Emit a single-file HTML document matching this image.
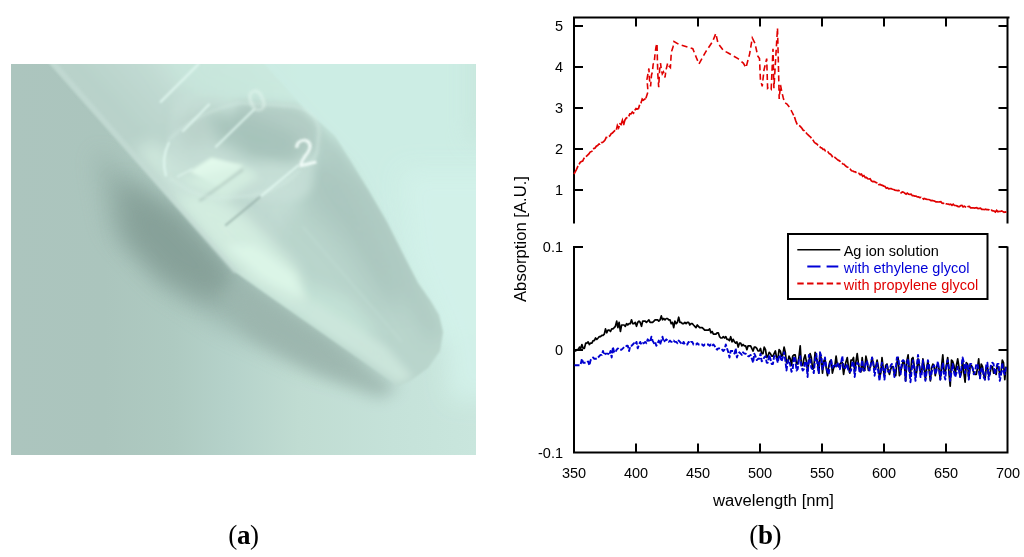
<!DOCTYPE html>
<html><head><meta charset="utf-8"><style>
html,body{margin:0;padding:0;background:#fff;width:1024px;height:557px;overflow:hidden}
svg{display:block}
.t{font-family:"Liberation Sans",Arial,sans-serif;font-size:14.5px;fill:#000}
.cap{font-family:"Liberation Serif","Times New Roman",serif;font-size:27px;letter-spacing:-0.3px;fill:#000}
</style></head><body>
<svg width="1024" height="557" viewBox="0 0 1024 557">
<defs>
<clipPath id="pc"><rect x="11" y="64" width="465" height="391"/></clipPath>
<clipPath id="tc"><path d="M28 40L235 272L398 386L410 381L428 368L440 351L443 332L439 315L430 300L418 283L402 252L387 222L369 191L350 160L335 136L322 124L305 110L243 40Z"/></clipPath>
<linearGradient id="bg" x1="11" y1="0" x2="476" y2="0" gradientUnits="userSpaceOnUse">
<stop offset="0" stop-color="#acc5be"/><stop offset="0.2" stop-color="#abc5bd"/><stop offset="0.35" stop-color="#aecac1"/><stop offset="0.47" stop-color="#b5d2ca"/><stop offset="0.62" stop-color="#c0dcd2"/><stop offset="0.82" stop-color="#c5e2d9"/><stop offset="1" stop-color="#c9e6dd"/>
</linearGradient>
<linearGradient id="tg" x1="100" y1="120" x2="219" y2="13" gradientUnits="userSpaceOnUse">
<stop offset="0" stop-color="#bad3cb"/><stop offset="0.12" stop-color="#b8d2ca"/><stop offset="0.45" stop-color="#c2dbd3"/><stop offset="1" stop-color="#d0f0e6"/>
</linearGradient>
<filter id="b1" x="-20%" y="-20%" width="140%" height="140%"><feGaussianBlur stdDeviation="1"/></filter>
<filter id="b2" x="-20%" y="-20%" width="140%" height="140%"><feGaussianBlur stdDeviation="1.5"/></filter>
<filter id="b4" x="-30%" y="-30%" width="160%" height="160%"><feGaussianBlur stdDeviation="4"/></filter>
<filter id="b8" x="-40%" y="-40%" width="180%" height="180%"><feGaussianBlur stdDeviation="8"/></filter>
<filter id="b12" x="-50%" y="-50%" width="200%" height="200%"><feGaussianBlur stdDeviation="12"/></filter>
</defs>
<g clip-path="url(#pc)">
<rect x="11" y="64" width="465" height="391" fill="url(#bg)"/>
<!-- right background light zone -->
<path d="M210 20L520 20L520 300L470 330L440 345L400 262L350 168L300 118L230 45Z" fill="#cdeee5" opacity="0.95" filter="url(#b8)"/>
<path d="M470 30L520 30L520 140L470 140Z" fill="#c6e4da" opacity="0.8" filter="url(#b12)"/>
<path d="M400 170L520 170L520 400L450 400L445 340L410 260Z" fill="#d3f2ea" opacity="0.9" filter="url(#b12)"/>
<!-- shadow under tube -->
<path d="M95 150L185 215L240 276L330 335L380 380L300 362L220 325L160 285L110 230Z" fill="#98b2aa" opacity="0.85" filter="url(#b12)"/>
<path d="M118 180L178 212L220 255L240 284L205 300L160 275L125 238Z" fill="#839d95" opacity="0.85" filter="url(#b12)"/>
<path d="M240 278L398 388L380 398L320 375L250 335L225 295Z" fill="#9cb6ae" opacity="0.85" filter="url(#b8)"/>
<!-- tube body -->
<g filter="url(#b1)">
<g clip-path="url(#tc)">
<rect x="20" y="30" width="440" height="370" fill="url(#tg)"/>
<!-- cone base -->
<path d="M240 300L290 215L330 170L365 180L420 250L460 340L420 400L330 360Z" fill="#b9d5cc" filter="url(#b8)"/>
<!-- top light zone -->
<path d="M150 40L330 40L330 110L260 110L190 100Z" fill="#c8e6dc" opacity="0.8" filter="url(#b12)"/>
<!-- cone dark upper zone -->
<path d="M295 160L335 140L372 200L400 262L410 300L385 305L345 245L305 205Z" fill="#a9c5bd" opacity="0.85" filter="url(#b12)"/>
<!-- dark band inside cone upper-right edge -->
<path d="M322 124L350 160L387 222L418 283L443 332L428 340L398 285L362 218L332 168L305 128Z" fill="#adc9c1" opacity="0.85" filter="url(#b8)"/>
<!-- cone lower-left light zone -->
<path d="M245 272L300 280L350 300L380 335L350 345L290 315L245 285Z" fill="#c4e3d7" opacity="0.9" filter="url(#b8)"/>
<path d="M238 272L398 384L414 378L385 345L312 300L262 266Z" fill="#cce6dc" opacity="0.9" filter="url(#b4)"/>
<!-- bright band along lower edge of straight part -->
<path d="M135 150L235 268L300 305L298 270L245 215L190 165L150 140Z" fill="#d0e9de" opacity="0.9" filter="url(#b8)"/>
<path d="M170 195L235 268L300 305L295 270L245 220L200 190Z" fill="#d4eee1" opacity="0.8" filter="url(#b8)"/>
<path d="M225 245L262 278L305 300L295 275L255 245Z" fill="#dcf6e7" opacity="0.9" filter="url(#b4)"/>
<!-- liquid region -->
<path d="M172 118Q168 100 190 96L290 108Q318 112 318 135L312 185Q308 200 290 200L185 195Q165 192 165 175Z" fill="#c8e0d8" opacity="0.7" filter="url(#b4)"/>
<!-- liquid dark band -->
<path d="M240 102L300 106L318 124L318 150L292 162L250 152L232 122Z" fill="#afc9c1" opacity="0.8" filter="url(#b4)"/>
<path d="M200 112L250 115L300 135L295 160L250 160L215 140Z" fill="#a6c2ba" opacity="0.9" filter="url(#b8)"/>
<path d="M175 120L205 112L215 140L185 150Z" fill="#b6cec6" opacity="0.7" filter="url(#b8)"/>
<!-- liquid bright patch -->
<path d="M189.6 171.5L219.2 187.3L243 165.5L211.3 157.6Z" fill="#e2f9eb" opacity="1" filter="url(#b2)"/>
<path d="M180 180L225 200L260 175L240 165Z" fill="#d6f0e2" opacity="0.8" filter="url(#b4)"/>
<path d="M199.5 201L243 169.5" stroke="#a0b8b0" stroke-width="2" opacity="0.7" filter="url(#b1)"/>
<!-- axis streak in cone -->
<path d="M302 226L402 342" stroke="#c4e0d6" stroke-width="2" opacity="0.5" filter="url(#b1)"/>
</g>
</g>
<!-- tube wall highlight along lower edge -->
<path d="M49 58L236 272" stroke="#c6ddd6" stroke-width="5" opacity="0.6" filter="url(#b2)" fill="none"/>
<!-- liquid outline -->
<path d="M168 141Q195 112 240 103L292 106Q318 110 319 132L317 152Q314 162 304 166" stroke="#d4ebe3" stroke-width="3" fill="none" opacity="0.4" filter="url(#b2)"/>
<path d="M170 178Q190 195 215 198L250 196Q280 190 300 170" stroke="#d8efe6" stroke-width="4" fill="none" opacity="0.3" filter="url(#b2)"/>
<!-- graduation lines -->
<g stroke="#e4faf2" stroke-width="2.2" stroke-linecap="round" fill="none" filter="url(#b1)">
<path d="M198.6 64L160.7 101.9" opacity="0.8"/>
<path d="M209 104.5L183 131" opacity="0.8"/>
<path d="M253.8 109.7L215.9 146.8" opacity="0.8"/>
<path d="M191.6 169.5L177.8 176.4" opacity="0.5"/>
<path d="M298.2 165.5L260 197" opacity="0.85"/>
<path d="M260 197L226 225" stroke="#90aaa2" opacity="0.7"/>
<path d="M168.9 142.8Q161 159 165.9 175.4" opacity="0.8"/>
</g>
<text x="0" y="0" transform="translate(298 168) rotate(-14)" font-family="Liberation Sans, sans-serif" font-size="38" fill="#f2fdf9" opacity="0.95" filter="url(#b1)">2</text>
<text x="0" y="0" transform="translate(253 114) rotate(-22)" font-family="Liberation Sans, sans-serif" font-size="31" fill="#e8f9f2" opacity="0.6" filter="url(#b2)">0</text>
</g>

<g class="t"><text x="563" y="31.2" text-anchor="end">5</text><text x="563" y="72.2" text-anchor="end">4</text><text x="563" y="113.2" text-anchor="end">3</text><text x="563" y="154.2" text-anchor="end">2</text><text x="563" y="195.2" text-anchor="end">1</text><text x="563" y="252.2" text-anchor="end">0.1</text><text x="563" y="355.2" text-anchor="end">0</text><text x="563" y="457.7" text-anchor="end">-0.1</text><text x="574.0" y="478" text-anchor="middle">350</text><text x="636.0" y="478" text-anchor="middle">400</text><text x="698.0" y="478" text-anchor="middle">450</text><text x="760.0" y="478" text-anchor="middle">500</text><text x="822.0" y="478" text-anchor="middle">550</text><text x="884.0" y="478" text-anchor="middle">600</text><text x="946.0" y="478" text-anchor="middle">650</text><text x="1008.0" y="478" text-anchor="middle">700</text></g>
<text class="t" x="713" y="505.5" style="font-size:15.6px" textLength="121" lengthAdjust="spacingAndGlyphs">wavelength [nm]</text>
<text class="t" transform="translate(525.5 302) rotate(-90)" style="font-size:15.6px" textLength="126" lengthAdjust="spacingAndGlyphs">Absorption [A.U.]</text>
<path d="M574 16.5V223.5M574 246V453.5M1007.5 16.5V223.5M1007.5 246.5V453.5M573 17.5H1009.5M573 452.5H1008.5" stroke="#000" stroke-width="2" fill="none"/><path d="M574 26h9M1007.5 26h-9M574 67h9M1007.5 67h-9M574 108h9M1007.5 108h-9M574 149h9M1007.5 149h-9M574 190h9M1007.5 190h-9M574 247h9M1007.5 247h-9M574 350h9M1007.5 350h-9M636 17.5v9M636 452.5v-9M698 17.5v9M698 452.5v-9M760 17.5v9M760 452.5v-9M822 17.5v9M822 452.5v-9M884 17.5v9M884 452.5v-9M946 17.5v9M946 452.5v-9" stroke="#000" stroke-width="2" fill="none"/>
<polyline points="574.0,174.0 575.2,171.9 576.5,169.3 577.7,166.6 579.0,164.6 580.2,162.3 581.4,161.6 582.7,161.0 583.9,158.5 585.2,157.0 586.4,156.3 587.6,155.1 588.9,153.9 590.1,152.1 591.4,151.5 592.6,150.9 593.8,148.5 595.1,148.0 596.3,146.2 597.6,145.5 598.8,144.2 600.0,144.2 601.3,142.6 602.5,142.5 603.8,141.3 605.0,140.0 606.2,137.4 607.5,137.5 608.7,136.7 610.0,135.7 611.2,133.6 612.4,133.1 613.7,131.7 614.9,130.7 616.2,130.7 617.4,125.5 618.6,127.8 619.9,123.9 621.1,124.5 622.4,120.3 623.6,125.0 624.8,120.4 626.1,118.2 627.3,117.5 628.6,116.9 629.8,113.8 631.0,113.9 632.3,112.1 633.5,113.2 634.8,110.4 636.0,108.5 637.2,109.0 638.5,108.6 639.7,104.6 641.0,102.9 642.2,99.1 643.4,100.2 644.7,99.2 645.9,98.3" fill="none" stroke="#e00000" stroke-width="1.7" stroke-dasharray="9 1.8"/>
<polyline points="645.9,98.3 648.0,91.8 647.0,79.2 648.9,68.5 649.5,80.0 650.6,86.4 651.5,75.0 652.4,72.0 653.2,64.0 654.2,63.0 655.0,54.0 656.0,47.0 657.0,43.3 657.4,60.0 657.8,73.9 658.2,80.0 658.7,87.3 659.6,70.0 660.5,63.0 661.4,70.0 662.3,73.9 663.5,72.0 665.0,77.5 666.0,70.0 667.7,63.0 669.0,66.0 670.4,67.6 671.3,52.3 673.0,47.0 674.0,41.5 678.5,44.2 692.8,48.7 696.4,57.7 699.0,64.0 705.4,52.3 712.6,41.5 715.8,33.5 718.0,43.3 723.4,50.5 728.7,53.2 738.0,58.6 743.3,63.1 746.0,67.6 749.6,54.1 752.3,38.0 755.0,43.3 757.7,55.9 759.5,58.6 760.4,79.2 762.2,86.4 764.0,70.0 766.7,58.6 767.6,88.2 769.0,87.0 771.2,89.1 773.0,48.7 773.9,88.2 775.0,70.0 777.5,28.0 778.3,60.0 779.2,99.0 780.5,85.0 782.0,92.7 783.3,98.0 784.6,102.6 787.0,104.0 790.0,108.0 792.0,112.0 794.5,117.0" fill="none" stroke="#e00000" stroke-width="1.6" stroke-dasharray="6 3.4"/>
<polyline points="794.5,117.0 795.7,120.7 797.0,124.0 798.2,125.0 799.5,125.7 800.7,126.9 801.9,128.2 803.2,130.3 804.4,130.7 805.7,132.1 806.9,133.8 808.1,134.9 809.4,136.2 810.6,137.1 811.9,139.0 813.1,140.2 814.3,142.3 815.6,143.3 816.8,144.0 818.1,145.3 819.3,145.8 820.5,147.5 821.8,148.0 823.0,149.3 824.3,149.3 825.5,151.1 826.7,151.1 828.0,151.8 829.2,153.6 830.5,154.1 831.7,155.5 832.9,157.5 834.2,156.8 835.4,157.8 836.7,159.0 837.9,160.1 839.1,160.6 840.4,161.6 841.6,163.1 842.9,164.0 844.1,164.2 845.3,165.7 846.6,166.7 847.8,167.2 849.1,168.8 850.3,169.3 851.5,170.8 852.8,171.0 854.0,171.6 855.3,171.9 856.5,172.7 857.7,172.4 859.0,173.4" fill="none" stroke="#e00000" stroke-width="1.7" stroke-dasharray="8 2"/>
<polyline points="859.0,173.4 860.2,174.8 861.5,174.2 862.7,176.3 863.9,175.6 865.2,177.5 866.4,177.3 867.7,178.7 868.9,179.0 870.1,178.8 871.4,180.9 872.6,181.6 873.9,181.4 875.1,182.0 876.3,182.6 877.6,182.9 878.8,184.5 880.1,184.3 881.3,185.2 882.5,185.4 883.8,186.1 885.0,186.4 886.3,188.2 887.5,187.8 888.7,188.8 890.0,188.6 891.2,188.7 892.5,189.2 893.7,189.5 894.9,190.1 896.2,190.3 897.4,190.7 898.7,190.5 899.9,191.2 901.1,192.8 902.4,192.0 903.6,192.2 904.9,193.3 906.1,194.2 907.3,193.1 908.6,194.1 909.8,194.3 911.1,194.1 912.3,195.7 913.5,195.7 914.8,196.1 916.0,196.1 917.3,197.0 918.5,196.9 919.7,197.5 921.0,197.3 922.2,197.6 923.5,199.2 924.7,198.5 925.9,199.2 927.2,199.4 928.4,199.5 929.7,199.7 930.9,200.6 932.1,200.4 933.4,200.7 934.6,201.1 935.9,201.9 937.1,201.9 938.3,202.0 939.6,201.8 940.8,201.7 942.1,203.1 943.3,203.3 944.5,203.0 945.8,203.6 947.0,204.0 948.3,204.2 949.5,204.5 950.7,204.1 952.0,205.3 953.2,204.2 954.5,205.5 955.7,205.5 956.9,205.9 958.2,206.6 959.4,206.6 960.7,205.5 961.9,205.4 963.1,206.9 964.4,206.2 965.6,206.9 966.9,207.5 968.1,206.5 969.3,206.4 970.6,207.8 971.8,207.8 973.1,207.8 974.3,208.1 975.5,207.9 976.8,207.7 978.0,208.6 979.3,208.3 980.5,208.2 981.7,209.4 983.0,209.3 984.2,209.7 985.5,209.2 986.7,209.6 987.9,209.6 989.2,209.8 990.4,210.5 991.7,210.2 992.9,210.9 994.1,211.0 995.4,212.0 996.6,210.4 997.9,211.7 999.1,211.4 1000.3,211.5 1001.6,210.9 1002.8,211.6 1004.1,212.3 1005.3,212.0 1006.5,212.3" fill="none" stroke="#e00000" stroke-width="1.7" stroke-dasharray="24 1.5"/>
<polyline points="574.5,349.7 575.7,351.0 577.0,349.7 578.2,349.7 579.5,347.1 580.7,348.4 581.9,344.5 583.2,348.4 584.4,348.4 585.7,343.2 586.9,343.2 588.1,341.9 589.4,344.5 590.6,343.2 591.9,343.2 593.1,340.6 594.3,340.6 595.6,338.0 596.8,339.3 598.1,338.0 599.3,336.7 600.5,336.7 601.8,335.4 603.0,335.4 604.3,334.1 605.5,328.9 606.7,332.8 608.0,330.2 609.2,330.2 610.5,331.5 611.7,328.9 612.9,328.9 614.2,327.6 615.4,326.3 616.7,321.1 617.9,327.6 619.1,322.4 620.4,331.5 621.6,325.0 622.9,325.0 624.1,325.0 625.3,326.3 626.6,323.7 627.8,325.0 629.1,323.7 630.3,323.7 631.5,319.8 632.8,323.7 634.0,323.7 635.3,322.4 636.5,326.3 637.7,322.4 639.0,321.1 640.2,322.4 641.5,326.3 642.7,321.1 643.9,321.1 645.2,321.1 646.4,322.4 647.7,321.1 648.9,319.8 650.1,322.4 651.4,322.4 652.6,322.4 653.9,321.1 655.1,319.8 656.3,319.8 657.6,319.8 658.8,321.1 660.1,319.8 661.3,315.9 662.5,319.8 663.8,318.5 665.0,319.8 666.3,318.5 667.5,318.5 668.7,319.8 670.0,319.8 671.2,323.7 672.5,322.4 673.7,327.6 674.9,321.1 676.2,323.7 677.4,322.4 678.7,317.2 679.9,322.4 681.1,322.4 682.4,323.7 683.6,323.7 684.9,322.4 686.1,323.7 687.3,322.4 688.6,322.4 689.8,325.0 691.1,323.7 692.3,323.7 693.5,325.0 694.8,326.3 696.0,327.6 697.3,325.0 698.5,326.3 699.7,327.6 701.0,327.6 702.2,327.6 703.5,328.9 704.7,330.2 705.9,330.2 707.2,330.2 708.4,330.2 709.7,328.9 710.9,332.8 712.1,331.5 713.4,334.1 714.6,334.1 715.9,334.1 717.1,332.8 718.3,332.8 719.6,336.7 720.8,338.0 722.1,338.0 723.3,336.7 724.5,338.0 725.8,336.7 727.0,339.3 728.3,339.3 729.5,340.6 730.7,336.7 732.0,341.9 733.2,339.3 734.5,341.9 735.7,343.2 736.9,341.9 738.2,347.1 739.4,343.2 740.7,343.2 741.9,345.8 743.1,344.5 744.4,345.8 745.6,345.8 746.9,349.7 748.1,345.8 749.3,345.8 750.6,345.8 751.8,348.4 753.1,351.0 754.3,347.1 755.5,347.1 756.8,348.4 758.0,351.0 759.3,351.0 760.5,348.4 761.7,353.6 763.0,353.6 764.2,347.1 765.5,349.7 766.7,357.5 767.9,356.2 769.2,352.3 770.4,353.6 771.7,356.2 772.9,356.2 774.1,353.6 775.4,351.0 776.6,357.5 777.9,358.8 779.1,349.7 780.3,351.0 781.6,356.2 782.8,354.9 784.1,347.1 785.3,352.3 786.5,362.7 787.8,362.7 789.0,356.2 790.3,358.8 791.5,365.3 792.7,356.2 794.0,354.9 795.2,354.9 796.5,364.0 797.7,364.0 798.9,357.5 800.2,345.8 801.4,365.3 802.7,365.3 803.9,358.8 805.1,354.9 806.4,361.4 807.6,371.8 808.9,361.4 810.1,353.6 811.3,357.5 812.6,369.2 813.8,367.9 815.1,352.3 816.3,357.5 817.5,361.4 818.8,373.1 820.0,353.6 821.3,358.8 822.5,373.1 823.7,361.4 825.0,358.8 826.2,367.9 827.5,375.7 828.7,366.6 829.9,361.4 831.2,360.1 832.4,373.1 833.7,367.9 834.9,365.3 836.1,356.2 837.4,365.3 838.6,366.6 839.9,364.0 841.1,362.7 842.3,362.7 843.6,374.4 844.8,366.6 846.1,361.4 847.3,357.5 848.5,367.9 849.8,373.1 851.0,360.1 852.3,360.1 853.5,357.5 854.7,371.8 856.0,361.4 857.2,353.6 858.5,364.0 859.7,370.5 860.9,371.8 862.2,357.5 863.4,370.5 864.7,370.5 865.9,356.2 867.1,361.4 868.4,370.5 869.6,369.2 870.9,364.0 872.1,357.5 873.3,364.0 874.6,369.2 875.8,366.6 877.1,360.1 878.3,366.6 879.5,377.0 880.8,373.1 882.0,357.5 883.3,369.2 884.5,375.7 885.7,365.3 887.0,364.0 888.2,370.5 889.5,374.4 890.7,369.2 891.9,366.6 893.2,366.6 894.4,374.4 895.7,375.7 896.9,362.7 898.1,357.5 899.4,375.7 900.6,371.8 901.9,366.6 903.1,361.4 904.3,362.7 905.6,380.9 906.8,361.4 908.1,354.9 909.3,370.5 910.5,374.4 911.8,358.8 913.0,357.5 914.3,366.6 915.5,377.0 916.7,371.8 918.0,358.8 919.2,365.3 920.5,373.1 921.7,371.8 922.9,358.8 924.2,366.6 925.4,379.6 926.7,367.9 927.9,361.4 929.1,370.5 930.4,380.9 931.6,367.9 932.9,364.0 934.1,366.6 935.3,375.7 936.6,366.6 937.8,364.0 939.1,369.2 940.3,379.6 941.5,366.6 942.8,354.9 944.0,370.5 945.3,371.8 946.5,365.3 947.7,357.5 949.0,373.1 950.2,386.1 951.5,360.1 952.7,361.4 953.9,365.3 955.2,374.4 956.4,365.3 957.7,358.8 958.9,366.6 960.1,377.0 961.4,373.1 962.6,360.1 963.9,373.1 965.1,382.2 966.3,362.7 967.6,364.0 968.8,378.3 970.1,366.6 971.3,365.3 972.5,367.9 973.8,373.1 975.0,374.4 976.3,374.4 977.5,367.9 978.7,358.8 980.0,378.3 981.2,364.0 982.5,366.6 983.7,374.4 984.9,379.6 986.2,367.9 987.4,366.6 988.7,375.7 989.9,374.4 991.1,366.6 992.4,366.6 993.6,373.1 994.9,371.8 996.1,374.4 997.3,365.3 998.6,367.9 999.8,374.4 1001.1,371.8 1002.3,360.1 1003.5,362.7 1004.8,379.6 1006.0,366.6" fill="none" stroke="#000" stroke-width="1.7" stroke-linejoin="round"/>
<polyline points="574.5,365.3 575.7,365.3 577.0,365.3 578.2,365.3 579.5,365.3 580.7,364.0 581.9,358.8 583.2,362.7 584.4,362.7 585.7,362.7 586.9,362.7 588.1,361.4 589.4,365.3 590.6,360.1 591.9,358.8 593.1,357.5 594.3,358.8 595.6,358.8 596.8,358.8 598.1,357.5 599.3,356.2 600.5,354.9 601.8,354.9 603.0,351.0 604.3,354.9 605.5,353.6 606.7,353.6 608.0,353.6 609.2,354.9 610.5,351.0 611.7,357.5 612.9,347.1 614.2,352.3 615.4,352.3 616.7,349.7 617.9,348.4 619.1,349.7 620.4,349.7 621.6,349.7 622.9,348.4 624.1,347.1 625.3,347.1 626.6,345.8 627.8,345.8 629.1,351.0 630.3,345.8 631.5,345.8 632.8,344.5 634.0,343.2 635.3,344.5 636.5,341.9 637.7,348.4 639.0,344.5 640.2,341.9 641.5,344.5 642.7,343.2 643.9,343.2 645.2,341.9 646.4,343.2 647.7,339.3 648.9,340.6 650.1,341.9 651.4,336.7 652.6,340.6 653.9,343.2 655.1,341.9 656.3,345.8 657.6,343.2 658.8,340.6 660.1,344.5 661.3,340.6 662.5,336.7 663.8,341.9 665.0,340.6 666.3,339.3 667.5,340.6 668.7,341.9 670.0,340.6 671.2,341.9 672.5,341.9 673.7,340.6 674.9,341.9 676.2,341.9 677.4,343.2 678.7,340.6 679.9,341.9 681.1,343.2 682.4,344.5 683.6,341.9 684.9,344.5 686.1,344.5 687.3,344.5 688.6,341.9 689.8,343.2 691.1,341.9 692.3,341.9 693.5,344.5 694.8,344.5 696.0,344.5 697.3,343.2 698.5,344.5 699.7,344.5 701.0,344.5 702.2,344.5 703.5,345.8 704.7,344.5 705.9,344.5 707.2,344.5 708.4,344.5 709.7,345.8 710.9,344.5 712.1,345.8 713.4,344.5 714.6,345.8 715.9,348.4 717.1,349.7 718.3,348.4 719.6,348.4 720.8,348.4 722.1,349.7 723.3,351.0 724.5,349.7 725.8,344.5 727.0,348.4 728.3,352.3 729.5,357.5 730.7,351.0 732.0,351.0 733.2,351.0 734.5,353.6 735.7,348.4 736.9,357.5 738.2,353.6 739.4,352.3 740.7,353.6 741.9,354.9 743.1,352.3 744.4,353.6 745.6,353.6 746.9,354.9 748.1,356.2 749.3,356.2 750.6,354.9 751.8,358.8 753.1,362.7 754.3,353.6 755.5,356.2 756.8,360.1 758.0,358.8 759.3,358.8 760.5,353.6 761.7,361.4 763.0,360.1 764.2,357.5 765.5,356.2 766.7,362.7 767.9,362.7 769.2,354.9 770.4,358.8 771.7,364.0 772.9,364.0 774.1,356.2 775.4,356.2 776.6,358.8 777.9,362.7 779.1,354.9 780.3,356.2 781.6,361.4 782.8,357.5 784.1,352.3 785.3,360.1 786.5,370.5 787.8,360.1 789.0,360.1 790.3,365.3 791.5,371.8 792.7,369.2 794.0,356.2 795.2,358.8 796.5,370.5 797.7,369.2 798.9,360.1 800.2,356.2 801.4,366.6 802.7,370.5 803.9,369.2 805.1,361.4 806.4,362.7 807.6,377.0 808.9,354.9 810.1,357.5 811.3,367.9 812.6,369.2 813.8,373.1 815.1,358.8 816.3,353.6 817.5,365.3 818.8,373.1 820.0,352.3 821.3,356.2 822.5,369.2 823.7,365.3 825.0,357.5 826.2,366.6 827.5,371.8 828.7,374.4 829.9,364.0 831.2,360.1 832.4,367.9 833.7,364.0 834.9,365.3 836.1,366.6 837.4,362.7 838.6,365.3 839.9,369.2 841.1,362.7 842.3,356.2 843.6,367.9 844.8,369.2 846.1,366.6 847.3,364.0 848.5,371.8 849.8,371.8 851.0,370.5 852.3,362.7 853.5,361.4 854.7,377.0 856.0,366.6 857.2,362.7 858.5,364.0 859.7,373.1 860.9,369.2 862.2,360.1 863.4,370.5 864.7,370.5 865.9,361.4 867.1,361.4 868.4,367.9 869.6,370.5 870.9,364.0 872.1,357.5 873.3,362.7 874.6,375.7 875.8,367.9 877.1,362.7 878.3,371.8 879.5,380.9 880.8,369.2 882.0,362.7 883.3,369.2 884.5,379.6 885.7,366.6 887.0,365.3 888.2,371.8 889.5,371.8 890.7,365.3 891.9,364.0 893.2,366.6 894.4,377.0 895.7,369.2 896.9,357.5 898.1,357.5 899.4,366.6 900.6,374.4 901.9,361.4 903.1,360.1 904.3,361.4 905.6,380.9 906.8,364.0 908.1,358.8 909.3,370.5 910.5,382.2 911.8,369.2 913.0,360.1 914.3,370.5 915.5,380.9 916.7,366.6 918.0,354.9 919.2,362.7 920.5,377.0 921.7,374.4 922.9,360.1 924.2,371.8 925.4,380.9 926.7,371.8 927.9,360.1 929.1,365.3 930.4,379.6 931.6,373.1 932.9,366.6 934.1,365.3 935.3,374.4 936.6,370.5 937.8,361.4 939.1,369.2 940.3,379.6 941.5,371.8 942.8,362.7 944.0,374.4 945.3,379.6 946.5,364.0 947.7,360.1 949.0,367.9 950.2,380.9 951.5,371.8 952.7,364.0 953.9,371.8 955.2,377.0 956.4,373.1 957.7,366.6 958.9,369.2 960.1,377.0 961.4,367.9 962.6,357.5 963.9,362.7 965.1,373.1 966.3,364.0 967.6,364.0 968.8,379.6 970.1,364.0 971.3,364.0 972.5,367.9 973.8,374.4 975.0,371.8 976.3,364.0 977.5,364.0 978.7,370.5 980.0,378.3 981.2,369.2 982.5,367.9 983.7,377.0 984.9,379.6 986.2,365.3 987.4,362.7 988.7,379.6 989.9,371.8 991.1,364.0 992.4,362.7 993.6,364.0 994.9,374.4 996.1,369.2 997.3,364.0 998.6,364.0 999.8,380.9 1001.1,374.4 1002.3,362.7 1003.5,371.8 1004.8,374.4 1006.0,366.6" fill="none" stroke="#0000d0" stroke-width="1.9" stroke-dasharray="5 1.8" stroke-linejoin="round"/>
<rect x="788" y="234" width="199.5" height="65" fill="#fff" stroke="#000" stroke-width="2"/>
<path d="M797.3 249.7H840.3" stroke="#000" stroke-width="1.6"/>
<path d="M807.3 266.5H820.5M826.6 266.5H838.3" stroke="#0000d8" stroke-width="1.8"/>
<path d="M797.3 283.5H840.7" stroke="#e00000" stroke-width="1.8" stroke-dasharray="6.4 3.4"/>
<text class="t" x="843.7" y="255.5">Ag ion solution</text>
<text class="t" x="843.7" y="272.5" style="fill:#0000d8">with ethylene glycol</text>
<text class="t" x="843.7" y="289.5" style="fill:#e00000">with propylene glycol</text>
<text class="cap" x="228.2" y="544">(<tspan font-weight="bold">a</tspan>)</text>
<text class="cap" x="749.2" y="544">(<tspan font-weight="bold">b</tspan>)</text>
</svg>
</body></html>
